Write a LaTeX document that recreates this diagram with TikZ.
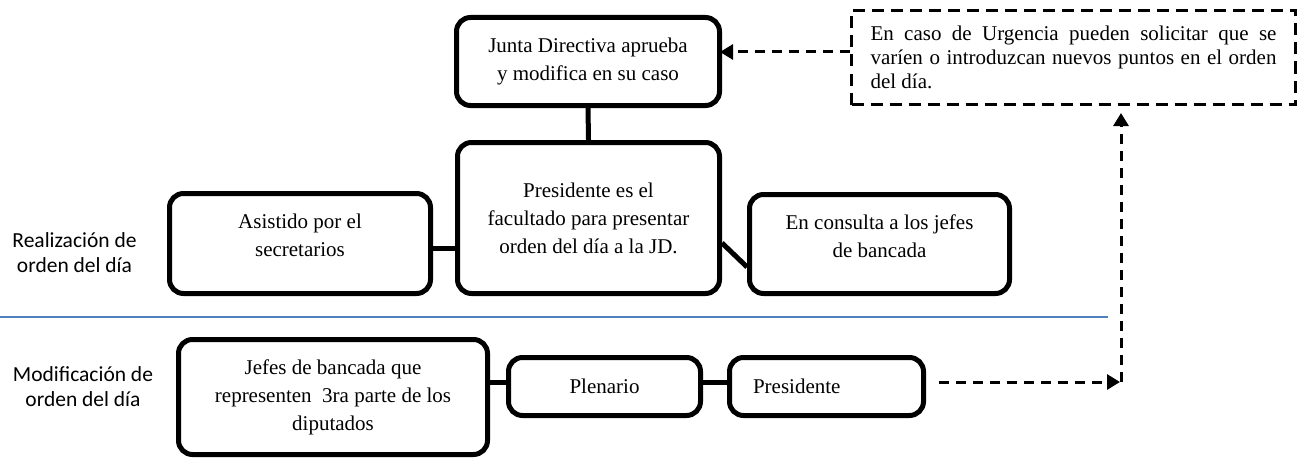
\documentclass[tikz,border=0pt]{standalone}
\usepackage{fontspec}
\setmainfont{Liberation Serif}
\newfontfamily\lblfont{Carlito}
\usetikzlibrary{arrows.meta}
\definecolor{sepblue}{RGB}{79,129,189}
\newcommand{\upshift}[2]{\begin{tabular}{@{}c@{}}#1\\[#2]\end{tabular}}
\tikzset{
  stepbox/.style={draw=black, line width=5pt, rounded corners=14pt, fill=white,
    align=center, inner sep=0pt, font=\fontsize{21}{28}\selectfont},
  link/.style={draw=black, line width=5pt},
  dasharrow/.style={draw=black, line width=3pt, dash pattern=on 10pt off 7pt,
    -{Triangle[length=13pt,width=15pt]}},
  notebox/.style={draw=black, line width=3pt, dash pattern=on 12pt off 7pt,
    inner sep=0pt, text width=406pt, align=justify,
    font=\fontsize{21}{24}\selectfont},
  rowlabel/.style={align=center, inner sep=0pt, font=\lblfont\fontsize{21.5}{25}\selectfont},
  separator/.style={draw=sepblue, line width=2.5pt}
}
\begin{document}
\begin{tikzpicture}[x=1pt, y=-1pt]
\useasboundingbox (0,0) rectangle (1303,460);

% row labels
\node[rowlabel] (lbl1) at (74.5,252.5) {Realización de\\orden del día};
\node[rowlabel] (lbl2) at (83,386.5) {Modificación de\\orden del día};

% separator
\coordinate (sepL) at (0,317);
\coordinate (sepR) at (1108,317);
\draw[separator] (sepL) -- (sepR);

% upper boxes
\node[stepbox, minimum width=263pt, minimum height=88pt] (junta) at (588,61.5)
  {Junta Directiva aprueba\\y modifica en su caso};
\node[stepbox, minimum width=262pt, minimum height=151pt] (pres) at (588.5,218)
  {Presidente es el\\facultado para presentar\\orden del día a la JD.};
\node[stepbox, minimum width=261pt, minimum height=100pt] (asis) at (300,243.5)
  {\upshift{Asistido por el\\secretarios}{14pt}};
\node[stepbox, minimum width=260pt, minimum height=99pt] (cons) at (879.5,244)
  {\upshift{En consulta a los jefes\\de bancada}{12pt}};

% note box
\node[notebox, minimum width=444pt, minimum height=94pt] (urg) at (1073.5,57.5)
  {\hyphenpenalty=10000\relax\exhyphenpenalty=10000\relax
   En caso de Urgencia pueden solicitar que se varíen o introduzcan nuevos puntos en el orden del día.};

% lower boxes
\node[stepbox, minimum width=309pt, minimum height=115pt] (jefes) at (333,397)
  {Jefes de bancada que\\representen~ 3ra parte de los\\diputados};
\node[stepbox, minimum width=192pt, minimum height=58pt] (plen) at (604.5,386.5)
  {Plenario};
\node[stepbox, minimum width=194pt, minimum height=58pt, align=left,
      text width=194pt, inner xsep=0pt] (presb) at (826.5,386.5)
  {\hspace*{23.5pt}Presidente};

% solid connectors
\draw[link] (junta.south) -- (pres.north);
\draw[link] ([yshift=-4.5pt]asis.east) -- ([yshift=-30pt]pres.west);
\draw[link] ([yshift=-25pt]pres.east) -- ([yshift=-23pt]cons.west);
\draw[link] ([yshift=15pt]jefes.east) -- ([yshift=4.5pt]plen.west);
\draw[link] ([yshift=4.5pt]plen.east) -- ([yshift=4.5pt]presb.east -| presb.west);

% dashed connectors
\coordinate (corner) at (1121,382);
\draw[dasharrow, shorten >=-2pt] ([yshift=5.5pt]urg.west) -- ([yshift=9.5pt]junta.east);
\draw[dasharrow, shorten <=13pt, shorten >=1pt] ([yshift=4.5pt]presb.east) -- (corner);
\draw[dasharrow, shorten >=7pt] (corner) -- (urg.south -| corner);
\end{tikzpicture}
\end{document}
